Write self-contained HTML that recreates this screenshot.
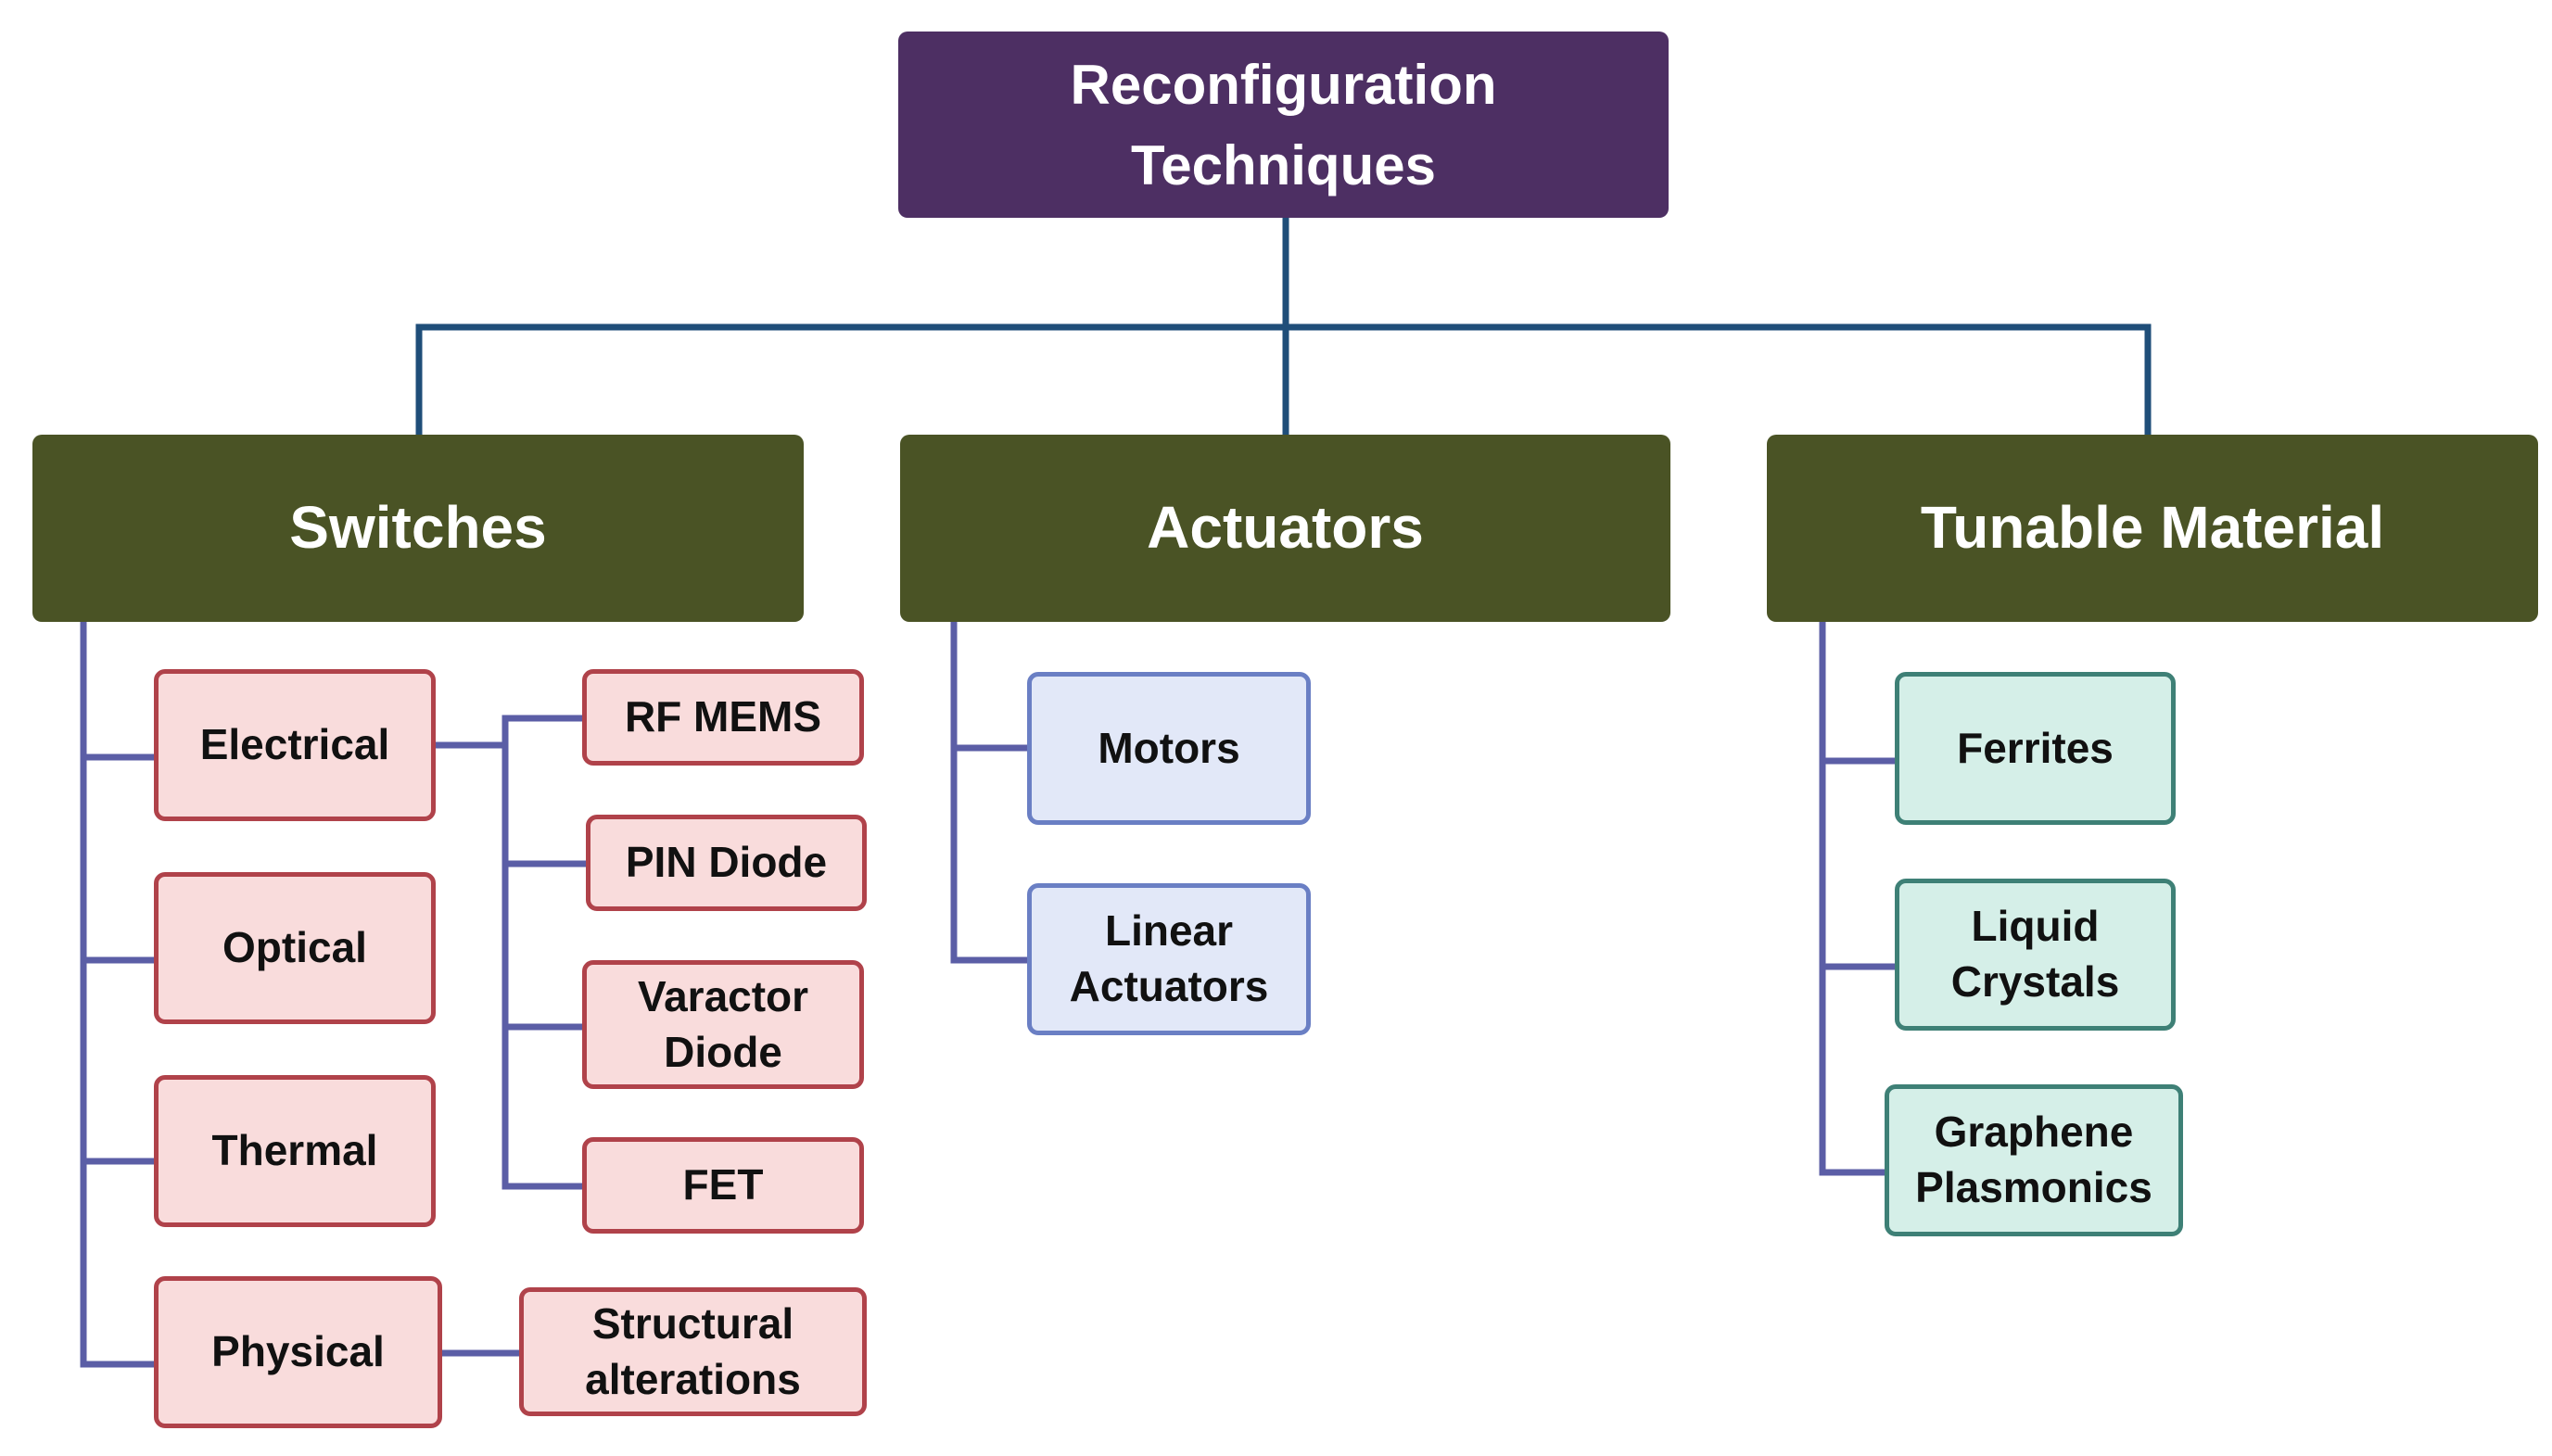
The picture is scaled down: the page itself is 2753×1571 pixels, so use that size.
<!DOCTYPE html>
<html><head><meta charset="utf-8"><style>
body{margin:0;width:2753px;height:1571px;background:#fff;position:relative;overflow:hidden;font-family:"Liberation Sans",sans-serif;font-weight:bold}
.b{position:absolute;box-sizing:border-box;display:flex;align-items:center;justify-content:center;text-align:center;line-height:1.3}
.root{background:#4d2f63;color:#fff;border-radius:10px;font-size:60px;line-height:1.45}
.l2{background:#4a5325;color:#fff;border-radius:10px;font-size:64px}
.p{background:#f9dcdc;border:5px solid #b0424a;border-radius:12px;font-size:46px;color:#111}
.u{background:#e2e8f8;border:5px solid #6a7fc4;border-radius:12px;font-size:46px;color:#111}
.t{background:#d5efe8;border:5px solid #3e8076;border-radius:12px;font-size:46px;color:#111}
svg{position:absolute;left:0;top:0}
</style></head><body>
<svg width="2753" height="1571">
<g stroke="#1f4e79" stroke-width="7" fill="none">
<path d="M1387 235V469M452 469V353H2317V469"/>
</g>
<g stroke="#5b5ea6" stroke-width="7" fill="none">
<path d="M90 671V1472H166M90 817H166M90 1036H166M90 1253H166"/>
<path d="M470 804H545M628 775H545V1280H628M545 932H632M545 1108H628"/>
<path d="M477 1460H560"/>
<path d="M1029 671V1036H1108M1029 807H1108"/>
<path d="M1966 671V1265H2033M1966 821H2044M1966 1043H2044"/>
</g>
</svg>
<div class="b root" style="left:969px;top:34px;width:831px;height:201px">Reconfiguration<br>Techniques</div>
<div class="b l2" style="left:35px;top:469px;width:832px;height:202px">Switches</div>
<div class="b l2" style="left:971px;top:469px;width:831px;height:202px">Actuators</div>
<div class="b l2" style="left:1906px;top:469px;width:832px;height:202px">Tunable Material</div>
<div class="b p" style="left:166px;top:722px;width:304px;height:164px">Electrical</div>
<div class="b p" style="left:166px;top:941px;width:304px;height:164px">Optical</div>
<div class="b p" style="left:166px;top:1160px;width:304px;height:164px">Thermal</div>
<div class="b p" style="left:166px;top:1377px;width:311px;height:164px">Physical</div>
<div class="b p" style="left:628px;top:722px;width:304px;height:104px">RF MEMS</div>
<div class="b p" style="left:632px;top:879px;width:303px;height:104px">PIN Diode</div>
<div class="b p" style="left:628px;top:1036px;width:304px;height:139px">Varactor<br>Diode</div>
<div class="b p" style="left:628px;top:1227px;width:304px;height:104px">FET</div>
<div class="b p" style="left:560px;top:1389px;width:375px;height:139px">Structural<br>alterations</div>
<div class="b u" style="left:1108px;top:725px;width:306px;height:165px">Motors</div>
<div class="b u" style="left:1108px;top:953px;width:306px;height:164px">Linear<br>Actuators</div>
<div class="b t" style="left:2044px;top:725px;width:303px;height:165px">Ferrites</div>
<div class="b t" style="left:2044px;top:948px;width:303px;height:164px">Liquid<br>Crystals</div>
<div class="b t" style="left:2033px;top:1170px;width:322px;height:164px">Graphene<br>Plasmonics</div>
</body></html>
